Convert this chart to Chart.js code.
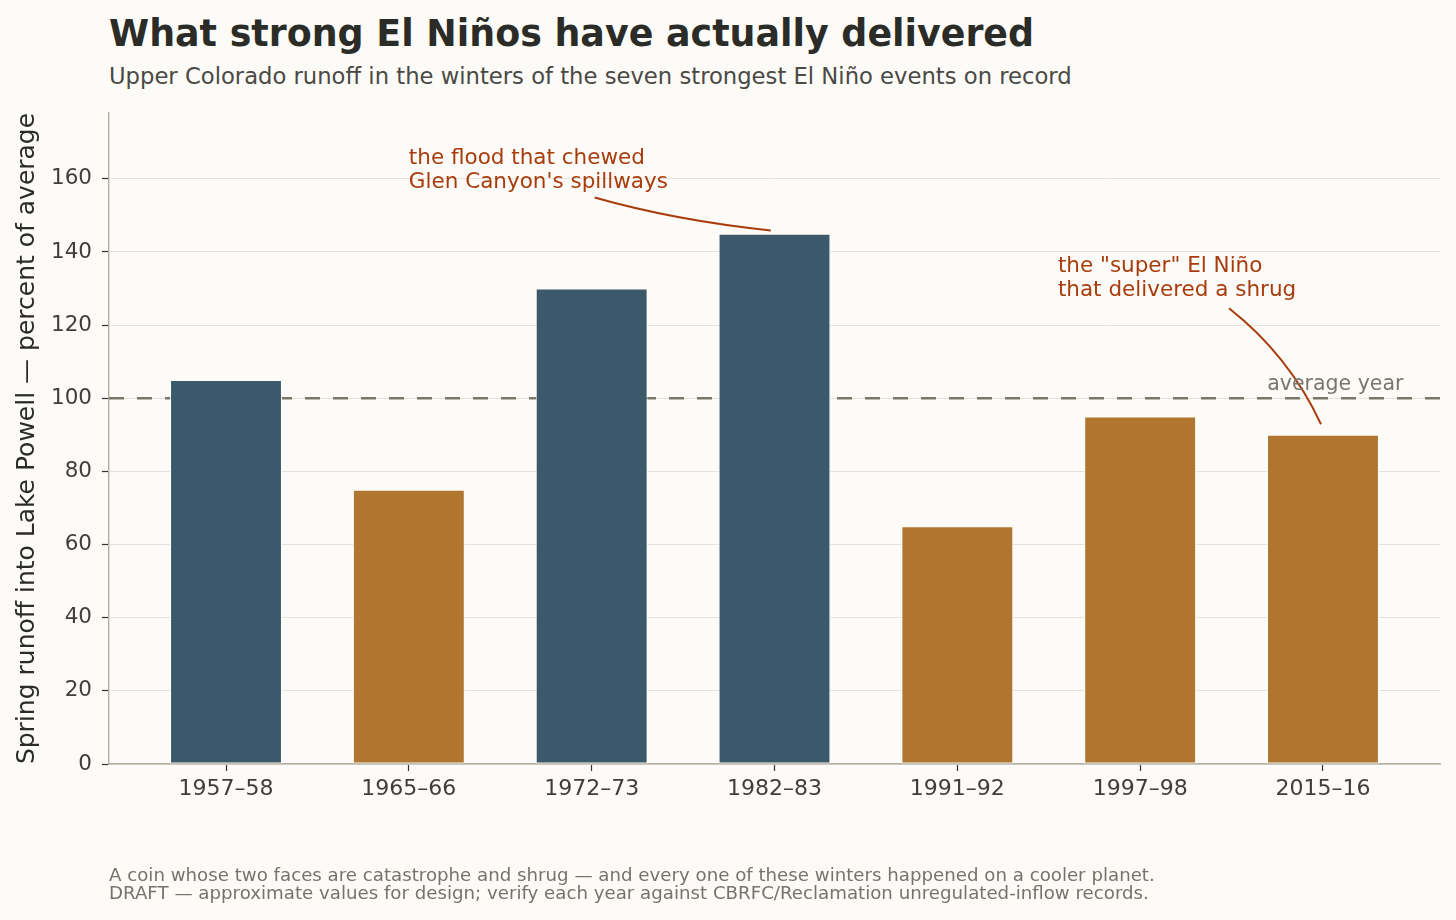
<!DOCTYPE html>
<html>
<head>
<meta charset="utf-8">
<script src="https://cdn.jsdelivr.net/npm/chart.js@4"></script>
<style>
  html, body { margin: 0; padding: 0; background: #fcfbf8; }
  body { width: 1456px; height: 920px; position: relative; overflow: hidden; font-family: "DejaVu Sans", sans-serif; }
  #chart { position: absolute; left: 0; top: 0; }
  .title { position: absolute; left: 109px; top: 16px; font-size: 36.4px; line-height: 1; font-weight: bold; color: #2b2b27; white-space: nowrap; }
  .subtitle { position: absolute; left: 109px; top: 65px; font-size: 22.7px; line-height: 1; color: #4a4944; white-space: nowrap; }
  .note { position: absolute; left: 109px; top: 866px; font-size: 18.2px; line-height: 18px; color: #77736a; white-space: nowrap; }
</style>
</head>
<body>
<div class="title">What strong El Niños have actually delivered</div>
<div class="subtitle">Upper Colorado runoff in the winters of the seven strongest El Niño events on record</div>
<canvas id="chart" width="1456" height="920"></canvas>
<div class="note">A coin whose two faces are catastrophe and shrug — and every one of these winters happened on a cooler planet.<br>DRAFT — approximate values for design; verify each year against CBRFC/Reclamation unregulated-inflow records.</div>

<script>
// 資料
const seasons = ['1957–58', '1965–66', '1972–73', '1982–83', '1991–92', '1997–98', '2015–16'];
const runoffPct = [105, 75, 130, 145, 65, 95, 90];
const yTicks = [0, 20, 40, 60, 80, 100, 120, 140, 160];
const averageLine = 100;

// 註解 (資料座標)
const floodNote = { x: 1.0, y: 164, lines: ['the flood that chewed', "Glen Canyon's spillways"],
                    from: [2.016, 154.9], ctrl: [2.46, 148.6], to: [2.98, 145.9] };
const shrugNote = { x: 4.55, y: 134.5, lines: ['the "super" El Niño', 'that delivered a shrug'],
                    from: [5.486, 124.6], ctrl: [5.814, 111.7], to: [5.989, 92.9] };
const avgLabel = { x: 6.44, y: 102.3, text: 'average year' };

const blue = '#3c596b';
const brown = '#b0762f';
const accent = '#a83c0c';
const bg = '#fcfbf8';

const barColors = runoffPct.map(v => v >= averageLine ? blue : brown);

// 平均線 (畫在長條後面)
const avgLinePlugin = {
    id: 'avgLine',
    beforeDatasetsDraw(chart) {
        const { ctx, chartArea, scales } = chart;
        const y = scales.y.getPixelForValue(averageLine);
        ctx.save();
        ctx.strokeStyle = '#7a766c';
        ctx.lineWidth = 2.4;
        ctx.setLineDash([15, 13]);
        ctx.beginPath();
        ctx.moveTo(chartArea.left, y);
        ctx.lineTo(chartArea.right, y);
        ctx.stroke();
        ctx.restore();
    }
};

// 註解文字與曲線
const notesPlugin = {
    id: 'notes',
    afterDatasetsDraw(chart) {
        const { ctx, scales } = chart;
        const px = v => scales.x.getPixelForValue(v);
        const py = v => scales.y.getPixelForValue(v);
        ctx.save();
        ctx.font = '21.5px "DejaVu Sans"';
        ctx.textBaseline = 'alphabetic';
        ctx.textAlign = 'left';
        [floodNote, shrugNote].forEach(n => {
            ctx.fillStyle = accent;
            n.lines.forEach((line, i) => {
                ctx.fillText(line, px(n.x), py(n.y) + i * 24.2);
            });
            ctx.strokeStyle = accent;
            ctx.lineWidth = 2;
            ctx.beginPath();
            ctx.moveTo(px(n.from[0]), py(n.from[1]));
            ctx.quadraticCurveTo(px(n.ctrl[0]), py(n.ctrl[1]), px(n.to[0]), py(n.to[1]));
            ctx.stroke();
        });
        ctx.font = '20.5px "DejaVu Sans"';
        ctx.fillStyle = '#7a766c';
        ctx.textAlign = 'right';
        ctx.fillText(avgLabel.text, px(avgLabel.x), py(avgLabel.y));
        ctx.restore();
    }
};

new Chart(document.getElementById('chart'), {
    type: 'bar',
    data: {
        datasets: [{
            data: runoffPct.map((v, i) => ({ x: i, y: v })),
            backgroundColor: barColors,
            borderColor: bg,
            borderWidth: 1,
            borderSkipped: false,
            barPercentage: 0.612,
            categoryPercentage: 1.0
        }]
    },
    options: {
        responsive: false,
        animation: false,
        devicePixelRatio: 1,
        layout: { padding: { left: 0, top: 113, right: 16, bottom: 0 } },
        plugins: { legend: { display: false }, tooltip: { enabled: false } },
        scales: {
            x: {
                type: 'linear',
                offset: false,
                min: -0.64,
                max: 6.64,
                afterBuildTicks: scale => { scale.ticks = seasons.map((_, i) => ({ value: i })); },
                afterFit: scale => { scale.height = 156; },
                ticks: {
                    autoSkip: false,
                    maxRotation: 0,
                    padding: 5,
                    color: '#3f3e3a',
                    font: { family: 'DejaVu Sans', size: 22 },
                    callback: v => seasons[v]
                },
                grid: { offset: false, drawOnChartArea: false, drawTicks: true, tickLength: 7, tickColor: '#333', tickWidth: 1.2 },
                border: { color: '#b3aea3', width: 1.4 }
            },
            y: {
                min: 0,
                max: 178,
                afterBuildTicks: scale => { scale.ticks = yTicks.map(v => ({ value: v })); },
                afterFit: scale => { scale.width = 109; },
                ticks: {
                    padding: 10,
                    color: '#3f3e3a',
                    font: { family: 'DejaVu Sans', size: 21.5 }
                },
                grid: { color: '#e6e3db', lineWidth: 1, tickLength: 7, tickColor: '#333', tickWidth: 1.2 },
                border: { color: '#b3aea3', width: 1.4 },
                title: {
                    display: true,
                    text: 'Spring runoff into Lake Powell — percent of average',
                    color: '#2b2b27',
                    font: { family: 'DejaVu Sans', size: 25 },
                    padding: { top: 12, bottom: 0 }
                }
            }
        }
    },
    plugins: [avgLinePlugin, notesPlugin]
});
</script>
</body>
</html>
